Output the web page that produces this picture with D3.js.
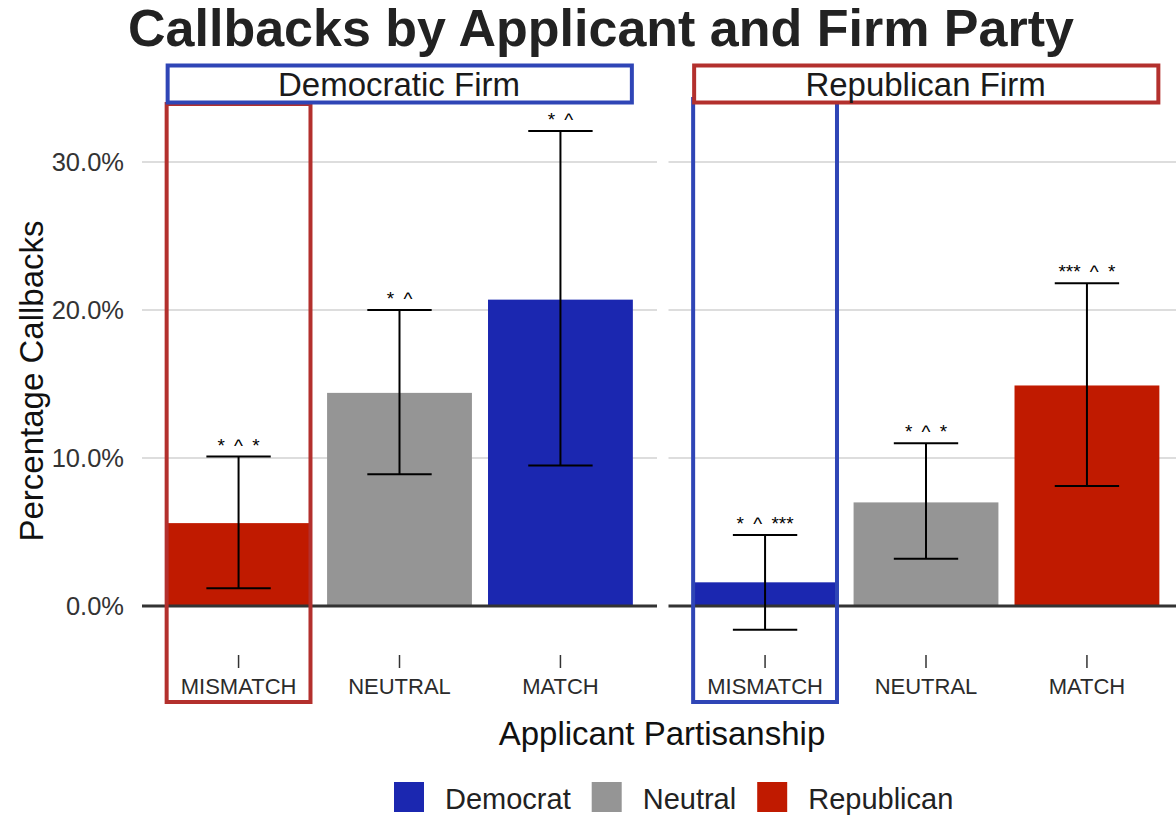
<!DOCTYPE html>
<html>
<head>
<meta charset="utf-8">
<script src="https://cdn.jsdelivr.net/npm/d3@7"></script>
<style>
  html, body { margin: 0; padding: 0; background: #ffffff; }
  svg { display: block; font-family: "Liberation Sans", Arial, Helvetica, sans-serif; }
</style>
</head>
<body>
<svg id="chart" width="1176" height="815"></svg>
<script>
// Callback rates (%) by applicant partisanship, faceted by firm party
const firms = ["Democratic Firm", "Republican Firm"];
const categories = ["MISMATCH", "NEUTRAL", "MATCH"];
const parties = ["Democrat", "Neutral", "Republican"];

// Applicant party shown in each bar (per firm)
const demFirmParty = ["Republican", "Neutral", "Democrat"];
const repFirmParty = ["Democrat", "Neutral", "Republican"];

// Callback percentage and confidence interval bounds
const demFirmValues = [5.6, 14.4, 20.7];
const demFirmLower = [1.2, 8.9, 9.5];
const demFirmUpper = [10.1, 20.0, 32.1];
const repFirmValues = [1.6, 7.0, 14.9];
const repFirmLower = [-1.6, 3.2, 8.1];
const repFirmUpper = [4.8, 11.0, 21.8];

// Significance markers printed above each interval
const demFirmStars = ["* ^ *", "* ^", "* ^"];
const repFirmStars = ["* ^ ***", "* ^ *", "*** ^ *"];

const yTicks = [0, 10, 20, 30];

const colors = { Democrat: "#1b27b0", Neutral: "#959595", Republican: "#c01a00" };
const boxColors = { Democrat: "#2f45b6", Republican: "#b3302d" };

const svg = d3.select("#chart");

// layout
const panelW = 515;
const panelLefts = [142, 668.5];
const stripTop = 65.5, stripBottom = 102.5;

const y = d3.scaleLinear().domain([0, 30]).range([606, 162]);

const panels = [
  { firm: firms[0], party: demFirmParty, vals: demFirmValues, lo: demFirmLower, hi: demFirmUpper, stars: demFirmStars,
    stripColor: boxColors.Democrat, highlight: boxColors.Republican, highlightTop: 104 },
  { firm: firms[1], party: repFirmParty, vals: repFirmValues, lo: repFirmLower, hi: repFirmUpper, stars: repFirmStars,
    stripColor: boxColors.Republican, highlight: boxColors.Democrat, highlightTop: 99 }
];

// title
svg.append("text")
  .attr("x", 601).attr("y", 46)
  .attr("text-anchor", "middle")
  .attr("font-size", 52).attr("font-weight", "bold")
  .attr("fill", "#222")
  .text("Callbacks by Applicant and Firm Party");

// y tick labels
svg.append("g").selectAll("text").data(yTicks).join("text")
  .attr("x", 124).attr("y", d => y(d))
  .attr("dy", "0.36em")
  .attr("text-anchor", "end")
  .attr("font-size", 25.5).attr("fill", "#333")
  .text(d => d3.format(".1f")(d) + "%");

// y axis title
svg.append("text")
  .attr("transform", "translate(43,381) rotate(-90)")
  .attr("text-anchor", "middle")
  .attr("font-size", 33).attr("fill", "#111")
  .text("Percentage Callbacks");

panels.forEach((p, i) => {
  const x = d3.scaleBand().domain(categories)
    .range([panelLefts[i], panelLefts[i] + panelW])
    .paddingInner(0.1).paddingOuter(0.15);
  const g = svg.append("g");
  const rows = categories.map((c, j) => ({ cat: c, party: p.party[j], v: p.vals[j], lo: p.lo[j], hi: p.hi[j], s: p.stars[j] }));

  // grid lines
  g.selectAll("line.grid").data(yTicks.filter(t => t !== 0)).join("line")
    .attr("x1", panelLefts[i]).attr("x2", panelLefts[i] + panelW)
    .attr("y1", d => y(d)).attr("y2", d => y(d))
    .attr("stroke", "#d2d2d2").attr("stroke-width", 1.6);

  // bars
  g.selectAll("rect.bar").data(rows).join("rect")
    .attr("x", d => x(d.cat)).attr("width", x.bandwidth())
    .attr("y", d => y(Math.max(0, d.v)))
    .attr("height", d => Math.abs(y(d.v) - y(0)))
    .attr("fill", d => colors[d.party]);

  // zero reference line
  g.append("line")
    .attr("x1", panelLefts[i]).attr("x2", panelLefts[i] + panelW)
    .attr("y1", y(0)).attr("y2", y(0))
    .attr("stroke", "#333").attr("stroke-width", 3.2);

  // error bars
  const capHalf = x.step() * 0.2;
  const eb = g.selectAll("g.err").data(rows).join("g")
    .attr("transform", d => `translate(${x(d.cat) + x.bandwidth() / 2},0)`);
  eb.append("line").attr("y1", d => y(d.lo)).attr("y2", d => y(d.hi))
    .attr("stroke", "#000").attr("stroke-width", 2);
  eb.append("line").attr("x1", -capHalf).attr("x2", capHalf)
    .attr("y1", d => y(d.hi)).attr("y2", d => y(d.hi))
    .attr("stroke", "#000").attr("stroke-width", 2);
  eb.append("line").attr("x1", -capHalf).attr("x2", capHalf)
    .attr("y1", d => y(d.lo)).attr("y2", d => y(d.lo))
    .attr("stroke", "#000").attr("stroke-width", 2);
  eb.append("text")
    .attr("y", d => y(d.hi) - 5)
    .attr("text-anchor", "middle")
    .attr("font-size", 19).attr("word-spacing", 4).attr("fill", "#000")
    .text(d => d.s);

  // x ticks and labels
  const xt = g.selectAll("g.xt").data(categories).join("g")
    .attr("transform", d => `translate(${x(d) + x.bandwidth() / 2},0)`);
  xt.append("line").attr("y1", 655).attr("y2", 668)
    .attr("stroke", "#333").attr("stroke-width", 1.5);
  xt.append("text").attr("y", 694)
    .attr("text-anchor", "middle")
    .attr("font-size", 22).attr("fill", "#2b2b2b")
    .text(d => d);

  // highlight box around the mismatch column
  const mx0 = x("MISMATCH") + 0.5, mx1 = x("MISMATCH") + x.bandwidth() - 0.5;
  g.append("rect")
    .attr("x", mx0).attr("width", mx1 - mx0)
    .attr("y", p.highlightTop).attr("height", 702 - p.highlightTop)
    .attr("fill", "none").attr("stroke", p.highlight).attr("stroke-width", 4);

  // facet strip label with outline
  const sx0 = x("MISMATCH") + 1.5, sx1 = x("MATCH") + x.bandwidth() - 1;
  g.append("rect")
    .attr("x", sx0).attr("width", sx1 - sx0)
    .attr("y", stripTop).attr("height", stripBottom - stripTop)
    .attr("fill", "#fff").attr("stroke", p.stripColor).attr("stroke-width", 4);
  g.append("text")
    .attr("x", panelLefts[i] + panelW / 2 - 0.5).attr("y", 96)
    .attr("text-anchor", "middle")
    .attr("font-size", 33).attr("fill", "#1a1a1a")
    .text(p.firm);
});

// x axis title
svg.append("text")
  .attr("x", 662).attr("y", 745)
  .attr("text-anchor", "middle")
  .attr("font-size", 33).attr("fill", "#111")
  .text("Applicant Partisanship");

// legend
const legend = svg.append("g");
let lx = 394;
parties.forEach(pt => {
  legend.append("rect")
    .attr("x", lx).attr("y", 782).attr("width", 30).attr("height", 30)
    .attr("fill", colors[pt]);
  const t = legend.append("text")
    .attr("x", lx + 51).attr("y", 809)
    .attr("font-size", 29).attr("fill", "#222")
    .text(pt);
  lx += 51 + t.node().getComputedTextLength() + 21;
});
</script>
</body>
</html>
